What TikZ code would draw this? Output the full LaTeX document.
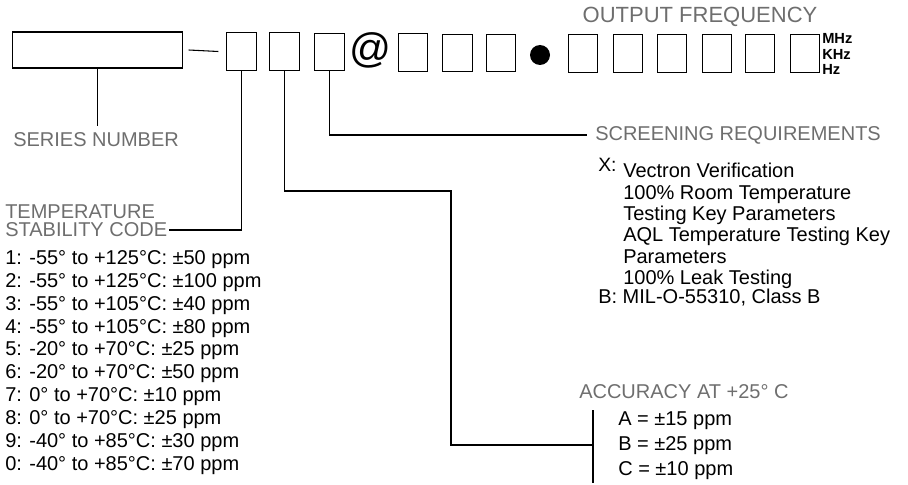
\documentclass[tikz,border=0pt]{standalone}
\usepackage{fontspec}
\setmainfont{Liberation Sans}
\usetikzlibrary{positioning,calc}
\definecolor{titgris}{RGB}{110,110,110}
\tikzset{
  digit/.style={rectangle, draw, line width=0.8pt, minimum width=22pt, minimum height=28pt, inner sep=0pt},
  titre/.style={text=titgris, font=\fontsize{15}{17}\selectfont, inner sep=0pt},
  liste/.style={align=left, font=\fontsize{15}{#1}\selectfont, inner sep=0pt},
  lien/.style={line width=0.8pt},
}
\begin{document}
\begin{tikzpicture}[x=0.75pt, y=-0.75pt]
  \useasboundingbox (0,0) rectangle (908,485);
  % code boxes
  \node[digit, minimum width=127pt, minimum height=27pt] (ser) at (97.5,50) {};
  \node[digit] (t) at (241.5,51.5) {}; \node[digit] (a) at (284.5,51.5) {}; \node[digit] (s) at (329.5,52) {};
  \node[inner sep=0pt, font=\fontsize{31}{31}\selectfont] (at) at (370,50) {@};
  \node[digit] (f1) at (413,52.5) {}; \node[digit] (f2) at (457.5,53) {}; \node[digit] (f3) at (501,53) {};
  \node[circle, fill, inner sep=0pt, minimum size=15pt] (dot) at (540,55) {};
  \node[digit] (f4) at (583,53.5) {}; \node[digit] (f5) at (628,53.5) {}; \node[digit] (f6) at (672,53.5) {};
  \node[digit] (f7) at (717,53.5) {}; \node[digit] (f8) at (760,53.5) {}; \node[digit] (f9) at (805,53.5) {};
  \node[align=left, inner sep=0pt, font=\fontsize{11}{11.5}\selectfont\bfseries, anchor=west] (unit) at (822,54) {MHz\\KHz\\Hz};
  \node[titre, font=\fontsize{16.5}{18}\selectfont] (outf) at (700,17) {OUTPUT FREQUENCY};
  \draw[lien] ([xshift=4.5pt]ser.east) -- ([xshift=-6pt]t.west);
  % series number
  \node[titre, anchor=west] (sertxt) at (13,140) {SERIES NUMBER};
  \draw[lien] (ser.south) -- ([yshift=5pt]ser.south |- sertxt.north);
  % temperature stability
  \node[titre, anchor=west] (temp1) at (5,212) {TEMPERATURE};
  \node[titre, anchor=west] (temp2) at (5,230) {STABILITY CODE};
  \draw[lien] (t.south) |- ([xshift=1pt]temp2.east);
  \node[liste=17.2pt, anchor=north west] (templ) at (5,250) {1: -55° to +125°C: ±50 ppm\\2: -55° to +125°C: ±100 ppm\\3: -55° to +105°C: ±40 ppm\\4: -55° to +105°C: ±80 ppm\\5: -20° to +70°C: ±25 ppm\\6: -20° to +70°C: ±50 ppm\\7: 0° to +70°C: ±10 ppm\\8: 0° to +70°C: ±25 ppm\\9: -40° to +85°C: ±30 ppm\\0: -40° to +85°C: ±70 ppm};
  % screening
  \node[titre, anchor=west] (scr) at (595,135) {SCREENING REQUIREMENTS};
  \draw[lien] (s.south) |- ([xshift=-6pt]scr.west);
  \node[inner sep=0pt, font=\fontsize{14.5}{15}\selectfont, anchor=west] (scrx) at (598,165) {X:};
  \node[liste=16pt, anchor=north west] (scrl) at (623,163) {Vectron Verification\\100\% Room Temperature\\Testing Key Parameters\\AQL Temperature Testing Key\\Parameters\\100\% Leak Testing};
  \node[liste=16pt, anchor=west] (scrb) at (598,298) {B: MIL-O-55310, Class B};
  % accuracy
  \node[titre, anchor=west] (acc) at (579,392) {ACCURACY AT +25° C};
  \node[liste=18.8pt, anchor=north west] (accl) at (618,411) {A = ±15 ppm\\B = ±25 ppm\\C = ±10 ppm};
  \coordinate (kink) at (451,191);
  \coordinate (accm) at (593,445);
  \coordinate (acctop) at (593,410);
  \coordinate (accbot) at (593,483);
  \draw[lien] (a.south) |- (kink) |- (accm);
  \draw[lien] (acctop) -- (accbot);
\end{tikzpicture}
\end{document}
